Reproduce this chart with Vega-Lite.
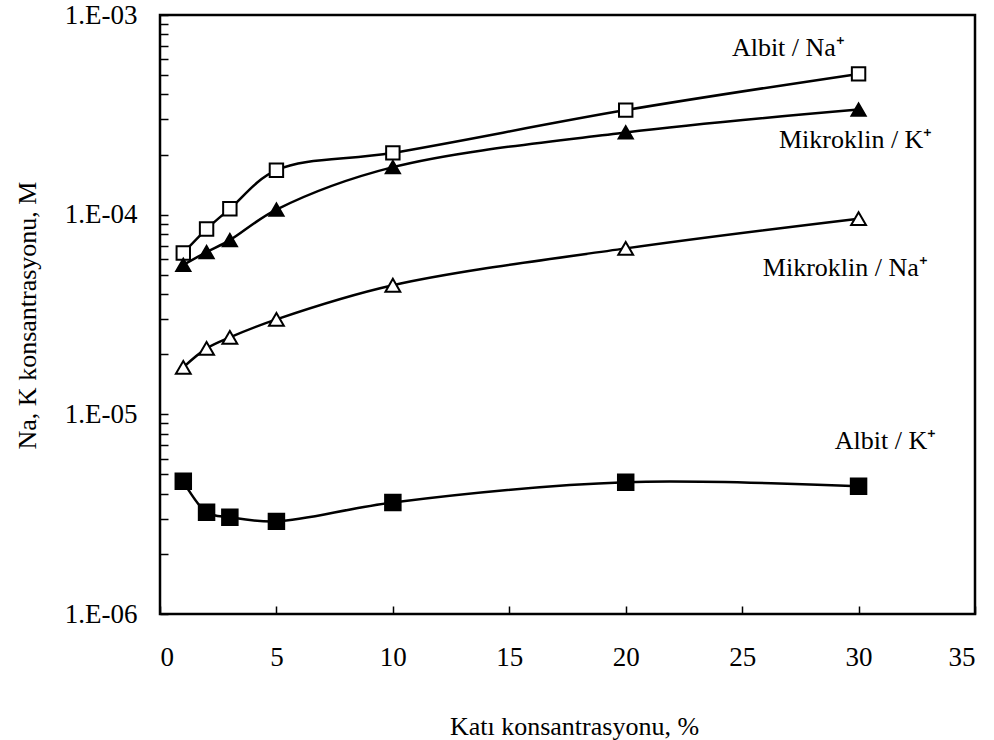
{
  "$schema": "https://vega.github.io/schema/vega-lite/v6.json",
  "width": 815,
  "height": 599,
  "autosize": {"type": "none"},
  "padding": {"left": 160, "top": 15, "right": 19, "bottom": 126},
  "background": "white",
  "config": {
    "view": {"stroke": "black", "strokeWidth": 2.5},
    "font": "Liberation Serif",
    "axis": {
      "domain": false,
      "grid": false,
      "tickColor": "black",
      "tickWidth": 1.5,
      "tickSize": -8,
      "labelColor": "black",
      "labelFont": "Liberation Serif",
      "labelFontSize": 27,
      "titleFont": "Liberation Serif",
      "titleFontSize": 26,
      "titleFontWeight": "normal",
      "titleColor": "black",
      "labelOverlap": false
    }
  },
  "datasets": {
    "series": [
      {"s": "Albit / Na+", "x": 1, "v": 6.43e-5},
      {"s": "Albit / Na+", "x": 2, "v": 8.47e-5},
      {"s": "Albit / Na+", "x": 3, "v": 1.07e-4},
      {"s": "Albit / Na+", "x": 5, "v": 1.67e-4},
      {"s": "Albit / Na+", "x": 10, "v": 2.04e-4},
      {"s": "Albit / Na+", "x": 20, "v": 3.34e-4},
      {"s": "Albit / Na+", "x": 30, "v": 5.07e-4},
      {"s": "Mikroklin / K+", "x": 1, "v": 5.6e-5},
      {"s": "Mikroklin / K+", "x": 2, "v": 6.5e-5},
      {"s": "Mikroklin / K+", "x": 3, "v": 7.46e-5},
      {"s": "Mikroklin / K+", "x": 5, "v": 1.06e-4},
      {"s": "Mikroklin / K+", "x": 10, "v": 1.73e-4},
      {"s": "Mikroklin / K+", "x": 20, "v": 2.58e-4},
      {"s": "Mikroklin / K+", "x": 30, "v": 3.36e-4},
      {"s": "Mikroklin / Na+", "x": 1, "v": 1.72e-5},
      {"s": "Mikroklin / Na+", "x": 2, "v": 2.14e-5},
      {"s": "Mikroklin / Na+", "x": 3, "v": 2.43e-5},
      {"s": "Mikroklin / Na+", "x": 5, "v": 2.99e-5},
      {"s": "Mikroklin / Na+", "x": 10, "v": 4.43e-5},
      {"s": "Mikroklin / Na+", "x": 20, "v": 6.78e-5},
      {"s": "Mikroklin / Na+", "x": 30, "v": 9.55e-5},
      {"s": "Albit / K+", "x": 1, "v": 4.62e-6},
      {"s": "Albit / K+", "x": 2, "v": 3.23e-6},
      {"s": "Albit / K+", "x": 3, "v": 3.05e-6},
      {"s": "Albit / K+", "x": 5, "v": 2.91e-6},
      {"s": "Albit / K+", "x": 10, "v": 3.62e-6},
      {"s": "Albit / K+", "x": 20, "v": 4.57e-6},
      {"s": "Albit / K+", "x": 30, "v": 4.36e-6}
    ],
    "labels": [
      {"label": "Albit / Na⁺", "x": 24.56, "v": 6.84e-4},
      {"label": "Mikroklin / K⁺", "x": 26.58, "v": 2.37e-4},
      {"label": "Mikroklin / Na⁺", "x": 25.89, "v": 5.41e-5},
      {"label": "Albit / K⁺", "x": 28.98, "v": 7.37e-6}
    ]
  },
  "layer": [
    {
      "data": {"name": "series"},
      "mark": {"type": "line", "interpolate": "catmull-rom", "color": "black", "strokeWidth": 2.5},
      "encoding": {
        "x": {
          "field": "x", "type": "quantitative",
          "scale": {"domain": [0, 35], "nice": false, "zero": false},
          "axis": {
            "values": [0, 5, 10, 15, 20, 25, 30, 35],
            "labelPadding": 38,
            "title": "Katı konsantrasyonu, %",
            "titleX": 414,
            "titleY": 112,
            "titleBaseline": "middle",
            "titleAlign": "center"
          }
        },
        "y": {
          "field": "v", "type": "quantitative",
          "scale": {"type": "log", "domain": [1e-6, 1e-3], "nice": false},
          "axis": {
            "values": [1e-6, 2e-6, 3e-6, 4e-6, 5e-6, 6e-6, 7e-6, 8e-6, 9e-6, 1e-5, 2e-5, 3e-5, 4e-5, 5e-5, 6e-5, 7e-5, 8e-5, 9e-5, 1e-4, 2e-4, 3e-4, 4e-4, 5e-4, 6e-4, 7e-4, 8e-4, 9e-4, 1e-3],
            "labelExpr": "abs(log(datum.value)/LN10 - round(log(datum.value)/LN10)) < 0.001 ? '1.E-0' + (-round(log(datum.value)/LN10)) : ''",
            "labelPadding": 31,
            "title": "Na, K  konsantrasyonu, M",
            "titleX": -133,
            "titleY": 300,
            "titleAngle": -90,
            "titleBaseline": "middle",
            "titleAlign": "center"
          }
        },
        "detail": {"field": "s", "type": "nominal"}
      }
    },
    {
      "data": {"name": "series"},
      "mark": {"type": "point", "filled": false, "stroke": "black", "strokeWidth": 2, "opacity": 1},
      "encoding": {
        "x": {"field": "x", "type": "quantitative"},
        "y": {"field": "v", "type": "quantitative"},
        "shape": {
          "field": "s", "type": "nominal",
          "scale": {"domain": ["Albit / Na+", "Mikroklin / K+", "Mikroklin / Na+", "Albit / K+"], "range": ["square", "triangle-up", "triangle-up", "square"]},
          "legend": null
        },
        "fill": {
          "field": "s", "type": "nominal",
          "scale": {"domain": ["Albit / Na+", "Mikroklin / K+", "Mikroklin / Na+", "Albit / K+"], "range": ["white", "black", "white", "black"]},
          "legend": null
        },
        "size": {
          "field": "s", "type": "nominal",
          "scale": {"domain": ["Albit / Na+", "Mikroklin / K+", "Mikroklin / Na+", "Albit / K+"], "range": [180, 240, 230, 200]},
          "legend": null
        }
      }
    },
    {
      "data": {"name": "labels"},
      "mark": {"type": "text", "align": "left", "baseline": "middle", "font": "Liberation Serif", "fontSize": 26, "color": "black"},
      "encoding": {
        "x": {"field": "x", "type": "quantitative"},
        "y": {"field": "v", "type": "quantitative"},
        "text": {"field": "label"}
      }
    }
  ]
}
